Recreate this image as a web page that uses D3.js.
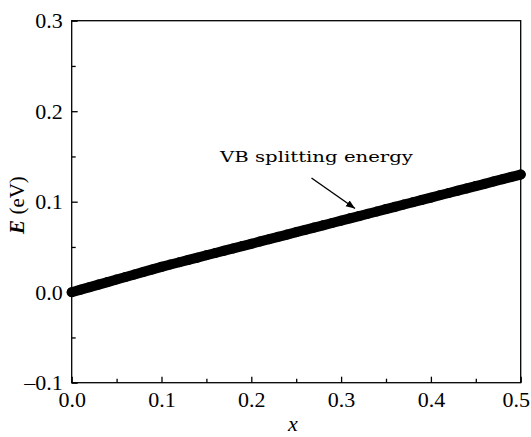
<!DOCTYPE html>
<html><head><meta charset="utf-8">
<script src="https://cdn.jsdelivr.net/npm/d3@7"></script>
<style>body{margin:0;background:#fff}svg{display:block}</style>
</head><body>
<svg id="c" width="531" height="437"></svg>
<script>
const xValues = [0.00,0.01,0.02,0.03,0.04,0.05,0.06,0.07,0.08,0.09,0.10,0.11,0.12,0.13,0.14,0.15,0.16,0.17,0.18,0.19,0.20,0.21,0.22,0.23,0.24,0.25,0.26,0.27,0.28,0.29,0.30,0.31,0.32,0.33,0.34,0.35,0.36,0.37,0.38,0.39,0.40,0.41,0.42,0.43,0.44,0.45,0.46,0.47,0.48,0.49,0.50];
const yValues = [0.0000,0.0028,0.0056,0.0084,0.0112,0.0140,0.0168,0.0196,0.0224,0.0252,0.0280,0.0306,0.0331,0.0357,0.0382,0.0408,0.0433,0.0459,0.0484,0.0510,0.0535,0.0561,0.0586,0.0612,0.0637,0.0663,0.0688,0.0714,0.0739,0.0765,0.0790,0.0816,0.0841,0.0867,0.0892,0.0918,0.0943,0.0969,0.0994,0.1020,0.1045,0.1071,0.1096,0.1122,0.1147,0.1173,0.1198,0.1224,0.1249,0.1275,0.1300];
const xTicks = [0.0,0.1,0.2,0.3,0.4,0.5];
const yTicks = [-0.1,0.0,0.1,0.2,0.3];
const xLabel = "x";
const yLabelMain = "E";
const yLabelUnit = " (eV)";
const annotation = "VB splitting energy";

const svg = d3.select("#c");
const L = 71.7, R = 520.7, T = 20.7, B = 382.7;
const x = d3.scaleLinear().domain([0, 0.5]).range([L, R]);
const y = d3.scaleLinear().domain([-0.1, 0.3]).range([B, T]);
const font = "'Liberation Serif', 'Times New Roman', serif";

// frame
svg.append("rect").attr("x", L).attr("y", T).attr("width", R - L).attr("height", B - T)
  .attr("fill", "none").attr("stroke", "#000").attr("stroke-width", 1.3);

const xMinor = [0.05, 0.15, 0.25, 0.35, 0.45];
const yMinor = [-0.05, 0.05, 0.15, 0.25];

const gx = svg.append("g").attr("transform", `translate(0,${B})`)
  .call(d3.axisBottom(x).tickValues(xTicks).tickSizeInner(-6).tickSizeOuter(0).tickPadding(9).tickFormat(d3.format(".1f")));
gx.select(".domain").remove();
gx.selectAll("line").attr("stroke-width", 1.3);
gx.selectAll("text").attr("font-family", font).attr("font-size", 22).attr("fill", "#000");
gx.selectAll(".tick").filter(d => d === 0.5).select("text").attr("dx", -5);
svg.append("g").attr("transform", `translate(0,${B})`)
  .call(d3.axisBottom(x).tickValues(xMinor).tickSizeInner(-4).tickSizeOuter(0).tickFormat(""))
  .call(g => { g.select(".domain").remove(); g.selectAll("line").attr("stroke-width", 1.3); });

const gy = svg.append("g").attr("transform", `translate(${L},0)`)
  .call(d3.axisLeft(y).tickValues(yTicks).tickSizeInner(-6).tickSizeOuter(0).tickPadding(9)
    .tickFormat(d => d < 0 ? "\u2013" + Math.abs(d).toFixed(1) : d.toFixed(1)));
gy.select(".domain").remove();
gy.selectAll("line").attr("stroke-width", 1.3);
gy.selectAll("text").attr("font-family", font).attr("font-size", 22).attr("fill", "#000");
svg.append("g").attr("transform", `translate(${L},0)`)
  .call(d3.axisLeft(y).tickValues(yMinor).tickSizeInner(-4).tickSizeOuter(0).tickFormat(""))
  .call(g => { g.select(".domain").remove(); g.selectAll("line").attr("stroke-width", 1.3); });

// data
const pts = xValues.map((v, i) => [v, yValues[i]]);
svg.append("path").datum(pts)
  .attr("d", d3.line().x(d => x(d[0])).y(d => y(d[1])))
  .attr("fill", "none").attr("stroke", "#000").attr("stroke-width", 10).attr("stroke-linecap", "round");
svg.append("g").selectAll("circle").data(pts).join("circle")
  .attr("cx", d => x(d[0])).attr("cy", d => y(d[1])).attr("r", 5).attr("fill", "#000");

// annotation
svg.append("text").attr("x", 220).attr("y", 162)
  .attr("font-family", "'DejaVu Serif', serif").attr("font-size", 15.5)
  .attr("textLength", 193).attr("lengthAdjust", "spacingAndGlyphs")
  .attr("fill", "#000").text(annotation);
svg.append("defs").append("marker").attr("id", "ah").attr("viewBox", "0 0 10 10")
  .attr("refX", 10).attr("refY", 5).attr("markerWidth", 9).attr("markerHeight", 9)
  .attr("markerUnits", "userSpaceOnUse").attr("orient", "auto")
  .append("path").attr("d", "M0,1 L10,5 L0,9 Z").attr("fill", "#000");
svg.append("line").attr("x1", 311.5).attr("y1", 178).attr("x2", 355).attr("y2", 208.5)
  .attr("stroke", "#000").attr("stroke-width", 1.4).attr("marker-end", "url(#ah)");

// axis titles
svg.append("text").attr("x", 293).attr("y", 431).attr("text-anchor", "middle")
  .attr("font-family", font).attr("font-size", 22).attr("font-style", "italic").text(xLabel);
const yt = svg.append("text").attr("transform", "translate(24,205) rotate(-90)").attr("text-anchor", "middle")
  .attr("font-family", font).attr("font-size", 21);
yt.append("tspan").attr("font-style", "italic").attr("font-weight", "bold").text(yLabelMain);
yt.append("tspan").text(yLabelUnit);
</script>
</body></html>
